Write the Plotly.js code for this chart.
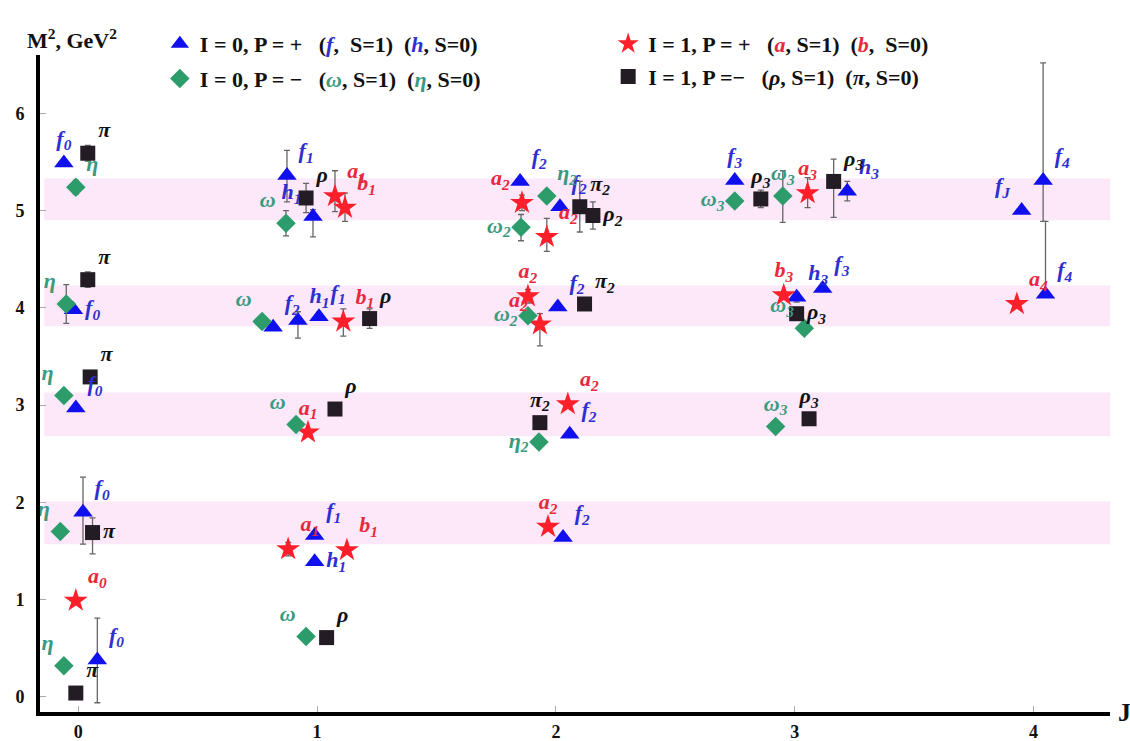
<!DOCTYPE html>
<html>
<head>
<meta charset="utf-8">
<script src="https://cdn.plot.ly/plotly-3.0.1.min.js"></script>
<style>html,body{margin:0;padding:0;background:#fff;}#chart{width:1130px;height:741px;}</style>
</head>
<body>
<div id="chart"></div>
<script>
// ---- Data (J, M^2 in GeV^2) ----
// I=0, P=+ (f, h) : triangles
const triJ   = [-0.06, -0.02, -0.01, 0.02, 0.08, 0.874, 0.983, 0.816, 0.92, 1.008, 0.99, 0.99, 1.85, 2.017, 2.008, 2.058, 2.03, 2.749, 3.22, 3.008, 3.117, 3.95, 4.04, 4.05];
const triM2  = [5.49, 3.98, 2.97, 1.90, 0.38, 5.36, 4.94, 3.80, 3.87, 3.91, 1.66, 1.39, 5.30, 5.04, 4.01, 2.70, 1.64, 5.31, 5.20, 4.11, 4.20, 5.00, 5.31, 4.14];
const triUp  = [0, 0, 0, 0.36, 0.43, 0.26, 0.07, 0, 0.09, 0, 0, 0, 0, 0, 0, 0, 0, 0, 0.10, 0.05, 0, 0, 1.21, 0.75];
const triDn  = [0, 0, 0, 0.33, 0.44, 0.27, 0.21, 0, 0.18, 0, 0, 0, 0, 0, 0, 0, 0, 0, 0.10, 0.05, 0, 0, 0.42, 0];
const triLab = ['f<sub>0</sub>','f<sub>0</sub>','f<sub>0</sub>','f<sub>0</sub>','f<sub>0</sub>','f<sub>1</sub>','h<sub>1</sub>','f<sub>2</sub>','h<sub>1</sub>','f<sub>1</sub>','f<sub>1</sub>','h<sub>1</sub>','f<sub>2</sub>','f<sub>2</sub>','f<sub>2</sub>','f<sub>2</sub>','f<sub>2</sub>','f<sub>3</sub>','h<sub>3</sub>','h<sub>3</sub>','f<sub>3</sub>','f<sub>J</sub>','f<sub>4</sub>','f<sub>4</sub>'];
const triPos = ['top center','middle right','top right','top right','top right','top right','top left','top right','top right','top right','top right','middle right','top right','top right','top right','top right','top right','top center','top right','top right','top right','top left','top right','top right'];

// I=1, P=+ (a, b) : stars
const starJ   = [-0.01, 1.075, 1.117, 1.11, 0.962, 0.879, 1.125, 1.858, 1.962, 1.883, 1.933, 2.05, 1.967, 3.054, 2.954, 3.93];
const starM2  = [0.99, 5.15, 5.03, 3.86, 2.72, 1.52, 1.51, 5.08, 4.73, 4.12, 3.83, 3.01, 1.75, 5.18, 4.13, 4.04];
const starUp  = [0, 0.26, 0.15, 0.13, 0, 0.07, 0, 0.08, 0.19, 0.07, 0.11, 0, 0, 0.16, 0, 0];
const starDn  = [0, 0.16, 0.14, 0.15, 0, 0.07, 0, 0.08, 0.15, 0.07, 0.22, 0, 0, 0.15, 0, 0];
const starLab = ['a<sub>0</sub>','a<sub>1</sub>','b<sub>1</sub>','b<sub>1</sub>','a<sub>1</sub>','a<sub>1</sub>','b<sub>1</sub>','a<sub>2</sub>','a<sub>2</sub>','a<sub>2</sub>','a<sub>2</sub>','a<sub>2</sub>','a<sub>2</sub>','a<sub>3</sub>','b<sub>3</sub>','a<sub>4</sub>'];
const starPos = ['top right','top right','top right','top right','top center','top right','top right','top left','top right','top center','top left','top right','top center','top center','top center','top right'];

// I=0, P=- (omega, eta) : diamonds
const diaJ   = [-0.01, -0.05, -0.06, -0.075, -0.06, 0.870, 0.77, 0.912, 0.954, 1.962, 1.854, 1.883, 1.929, 2.749, 2.95, 3.04, 2.92];
const diaM2  = [5.24, 4.04, 3.10, 1.70, 0.32, 4.87, 3.86, 2.80, 0.62, 5.15, 4.83, 3.92, 2.62, 5.10, 5.15, 3.79, 2.78];
const diaUp  = [0.07, 0.20, 0, 0, 0, 0.13, 0.06, 0.06, 0, 0, 0.13, 0.05, 0, 0, 0.26, 0, 0];
const diaDn  = [0.07, 0.20, 0, 0, 0, 0.13, 0.06, 0.06, 0, 0, 0.14, 0.05, 0, 0, 0.27, 0, 0];
const diaLab = ['η','η','η','η','η','ω','ω','ω','ω','η<sub>2</sub>','ω<sub>2</sub>','ω<sub>2</sub>','η<sub>2</sub>','ω<sub>3</sub>','ω<sub>3</sub>','ω<sub>3</sub>','ω<sub>3</sub>'];
const diaPos = ['top right','top left','top left','top left','top left','top left','top left','top left','top left','top right','middle left','middle left','middle left','middle left','top center','top left','top center'];

// I=1, P=- (rho, pi) : squares
const sqJ   = [0.04, 0.04, 0.05, 0.06, -0.01, 0.954, 1.22, 1.075, 1.04, 2.10, 2.155, 2.12, 1.933, 2.858, 3.163, 3.008, 3.06];
const sqM2  = [5.59, 4.29, 3.29, 1.69, 0.04, 5.13, 3.89, 2.96, 0.61, 5.04, 4.95, 4.04, 2.82, 5.12, 5.30, 3.94, 2.86];
const sqUp  = [0.08, 0.08, 0, 0.15, 0, 0.15, 0.10, 0, 0, 0.26, 0.14, 0, 0, 0.09, 0.23, 0, 0];
const sqDn  = [0.08, 0.08, 0, 0.22, 0, 0.15, 0.10, 0, 0, 0.26, 0.14, 0, 0, 0.09, 0.37, 0, 0];
const sqLab = ['π','π','π','π','π','ρ','ρ','ρ','ρ','π<sub>2</sub>','ρ<sub>2</sub>','π<sub>2</sub>','π<sub>2</sub>','ρ<sub>3</sub>','ρ<sub>3</sub>','ρ<sub>3</sub>','ρ<sub>3</sub>'];
const sqPos = ['top right','top right','top right','middle right','top right','top right','top right','top right','top right','top right','middle right','top right','top center','top center','top right','middle right','top center'];

// highlighted M^2 bands
const bandLow  = [4.90, 3.81, 2.68, 1.57];
const bandHigh = [5.33, 4.23, 3.13, 2.01];

const xTicks = [0, 1, 2, 3, 4];
const yTicks = [0, 1, 2, 3, 4, 5, 6];

// ---- Styling ----
const SERIF = '"Liberation Serif", "Times New Roman", Times, serif';
const C_BLUE = '#1010ee', C_RED = '#ff1f2a', C_GREEN = '#2d9c6b', C_BLACK = '#231c24';
const L_BLUE = '#2f2fd0', L_RED = '#e8283c', L_GREEN = '#3a9a7e', L_BLACK = '#111111';
const errStyle = (up, dn) => ({type:'data', symmetric:false, array:up, arrayminus:dn, color:'#666', thickness:1.3, width:3});
const sp = (c, t) => '<span style="color:' + c + '"><i>' + t + '</i></span>';
const NB = '\u00a0';

function series(x, y, up, dn, sym, col, size, name, legendId) {
  return {x:x, y:y, type:'scatter', mode:'markers', name:name, legend:legendId,
    marker:{symbol:sym, color:col, size:size, line:{width:0}},
    error_y: errStyle(up, dn), hoverinfo:'skip'};
}
function labels(x, y, txt, pos, col, size) {
  return {x:x, y:y, type:'scatter', mode:'markers+text', showlegend:false, text:txt, textposition:pos,
    marker:{size:size, opacity:0}, hoverinfo:'skip',
    textfont:{family:SERIF, size:22, color:col, weight:'bold', style:'italic'}};
}

const traces = [
  series(triJ, triM2, triUp, triDn, 'triangle-up', C_BLUE, 17,
    '<b>I = 0, P = +' + NB+NB + ' (' + sp(L_BLUE,'f') + ',' + NB+NB + 'S=1)' + NB+NB + '(' + sp(L_BLUE,'h') + ', S=0)</b>', 'legend'),
  series(starJ, starM2, starUp, starDn, 'star', C_RED, 18,
    '<b>I = 1, P = +' + NB+NB + ' (' + sp(L_RED,'a') + ', S=1)' + NB+NB + '(' + sp(L_RED,'b') + ',' + NB+NB + 'S=0)</b>', 'legend2'),
  series(diaJ, diaM2, diaUp, diaDn, 'diamond', C_GREEN, 15,
    '<b>I = 0, P = \u2212' + NB+NB + ' (' + sp(L_GREEN,'ω') + ', S=1)' + NB+NB + '(' + sp(L_GREEN,'η') + ', S=0)</b>', 'legend3'),
  series(sqJ, sqM2, sqUp, sqDn, 'square', C_BLACK, 15,
    '<b>I = 1, P =\u2212' + NB+NB + ' (<i>ρ</i>, S=1)' + NB+NB + '(<i>π</i>, S=0)</b>', 'legend4'),
  labels(triJ, triM2, triLab, triPos, L_BLUE, 17),
  labels(starJ, starM2, starLab, starPos, L_RED, 18),
  labels(diaJ, diaM2, diaLab, diaPos, L_GREEN, 15),
  labels(sqJ, sqM2, sqLab, sqPos, L_BLACK, 15)
];

const shapes = bandLow.map((lo, i) => ({type:'rect', layer:'below', xref:'paper', yref:'y',
  x0:0.004, x1:1, y0:lo, y1:bandHigh[i], fillcolor:'#fce8f8', line:{width:0}}));

function leg(xp, yp) {
  return {x:xp, y:yp, xanchor:'left', yanchor:'middle', bgcolor:'rgba(0,0,0,0)', borderwidth:0,
    font:{family:SERIF, size:22, color:'#111'}, itemclick:false, itemdoubleclick:false};
}

const axisFont = {family:SERIF, size:18, color:'#111', weight:'bold'};
const layout = {
  width:1130, height:741,
  margin:{l:40, r:20, t:55, b:29},
  paper_bgcolor:'#ffffff', plot_bgcolor:'#ffffff',
  showlegend:true,
  xaxis:{range:[-0.16, 4.32], tickvals:xTicks, ticktext:xTicks.map(String), showgrid:false, zeroline:false,
    showline:true, linewidth:4, linecolor:'#000', ticks:'inside', ticklen:6, tickcolor:'#aaa',
    tickfont:axisFont, ticklabelstandoff:0, fixedrange:true},
  yaxis:{range:[-0.155, 6.6], tickvals:yTicks, ticktext:yTicks.map(String), showgrid:false, zeroline:false,
    showline:true, linewidth:4, linecolor:'#000', ticks:'inside', ticklen:6, tickcolor:'#aaa',
    tickfont:axisFont, ticklabelstandoff:8, fixedrange:true},
  shapes:shapes,
  legend: leg(0.112, 1.017),
  legend2: leg(0.531, 1.017),
  legend3: leg(0.112, 0.964),
  legend4: leg(0.531, 0.967),
  annotations:[
    {xref:'paper', yref:'paper', x:0.03, y:1.025, xanchor:'center', yanchor:'middle', showarrow:false,
      text:'<b>M<sup>2</sup>, GeV<sup>2</sup></b>', font:{family:SERIF, size:22, color:'#111'}},
    {xref:'paper', yref:'paper', x:1.006, y:0.0, xanchor:'left', yanchor:'middle', showarrow:false,
      text:'<b>J</b>', font:{family:SERIF, size:26, color:'#111'}}
  ]
};

Plotly.newPlot('chart', traces, layout, {displayModeBar:false, staticPlot:true});
</script>
</body>
</html>
